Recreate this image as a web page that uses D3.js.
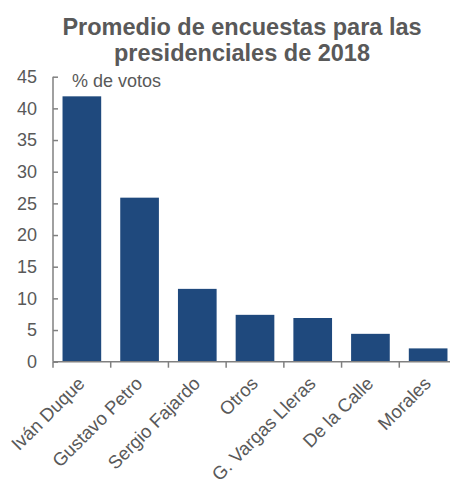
<!DOCTYPE html>
<html lang="es">
	<head>
		<meta charset="utf-8">
		<title>Promedio de encuestas</title>
		<script type="text/javascript" src="https://cdn.jsdelivr.net/npm/d3@7"></script>
		<style type="text/css">
			body { margin: 0; background: #fff; }
			text { font-family: Arial, "Liberation Sans", sans-serif; fill: #595959; }
		</style>
	</head>
	<body>
		<script type="text/javascript">
	// data
	var candidates = ["Iván Duque", "Gustavo Petro", "Sergio Fajardo", "Otros", "G. Vargas Lleras", "De la Calle", "Morales"];
	var votes = [41.9, 25.9, 11.5, 7.4, 6.9, 4.4, 2.1];
	var yTicks = [0, 5, 10, 15, 20, 25, 30, 35, 40, 45];
	var titleLines = ["Promedio de encuestas para las", "presidenciales de 2018"];
	var unitLabel = "% de votos";

	var w = 450;
	var h = 479;
	var margin = {top: 77, right: -7, bottom: 117, left: 53};

	var data = candidates.map(function(c, i) { return {name: c, value: votes[i]}; });

	var svg = d3.select("body")
				.append("svg")
				.attr("width", w)
				.attr("height", h);

	// title
	svg.selectAll("text.title")
		.data(titleLines)
		.enter()
		.append("text")
		.attr("class", "title")
		.attr("x", 242)
		.attr("y", function(d, i) { return 35 + i * 26; })
		.attr("text-anchor", "middle")
		.style("font-size", "23.5px")
		.style("font-weight", "bold")
		.text(function(d) { return d; });

	var x = d3.scaleBand()
			.domain(candidates)
			.range([margin.left, w - margin.right])
			.paddingInner(0.33)
			.paddingOuter(0.165);

	var y = d3.scaleLinear()
			.domain([0, 45])
			.range([h - margin.bottom - 0.3, margin.top - 0.3]);

	var g = svg.append("g");

	// bars
	g.selectAll("rect")
		.data(data)
		.enter()
		.append("rect")
		.attr("x", function(d) { return x(d.name); })
		.attr("y", function(d) { return y(d.value); })
		.attr("width", x.bandwidth())
		.attr("height", function(d) { return y(0) - y(d.value); })
		.style("fill", "#1f497d");

	// y axis, ticks point inward
	var yAxis = d3.axisLeft(y)
			.tickValues(yTicks)
			.tickSize(-5)
			.tickPadding(16);

	var yG = svg.append("g")
			.attr("transform", "translate(" + margin.left + ",0)")
			.call(yAxis);
	yG.select(".domain").attr("d", "M0," + y(45) + "V" + y(0));

	// x axis
	var xAxis = d3.axisBottom(x)
			.tickSize(0)
			.tickFormat("");
	var xG = svg.append("g")
			.attr("transform", "translate(0," + y(0) + ")")
			.call(xAxis);
	xG.select(".domain").attr("d", "M" + margin.left + ",0H" + w);

	// tick marks between bands
	var step = x.step();
	var sepX = [margin.left].concat(candidates.map(function(d) {
		return x(d) - x.paddingInner() * step / 2 + step;
	}));
	xG.selectAll("line.sep")
		.data(sepX)
		.enter()
		.append("line")
		.attr("class", "sep")
		.attr("x1", function(d) { return d; })
		.attr("x2", function(d) { return d; })
		.attr("y1", 0)
		.attr("y2", 6);

	svg.selectAll(".domain, .tick line, line.sep")
		.style("stroke", "#808080")
		.style("stroke-width", 1.5);

	yG.selectAll(".tick text")
		.style("font-size", "18px")
		.style("fill", "#595959");

	// category labels
	svg.selectAll("text.cat")
		.data(candidates)
		.enter()
		.append("text")
		.attr("class", "cat")
		.attr("text-anchor", "end")
		.attr("transform", function(d) {
			return "translate(" + (x(d) + x.bandwidth() / 2 + 4) + "," + (y(0) + 23) + ") rotate(-45)";
		})
		.style("font-size", "18.5px")
		.text(function(d) { return d; });

	// unit label
	svg.append("text")
		.attr("x", 72)
		.attr("y", 87)
		.style("font-size", "18px")
		.text(unitLabel);
		</script>
	</body>
</html>
